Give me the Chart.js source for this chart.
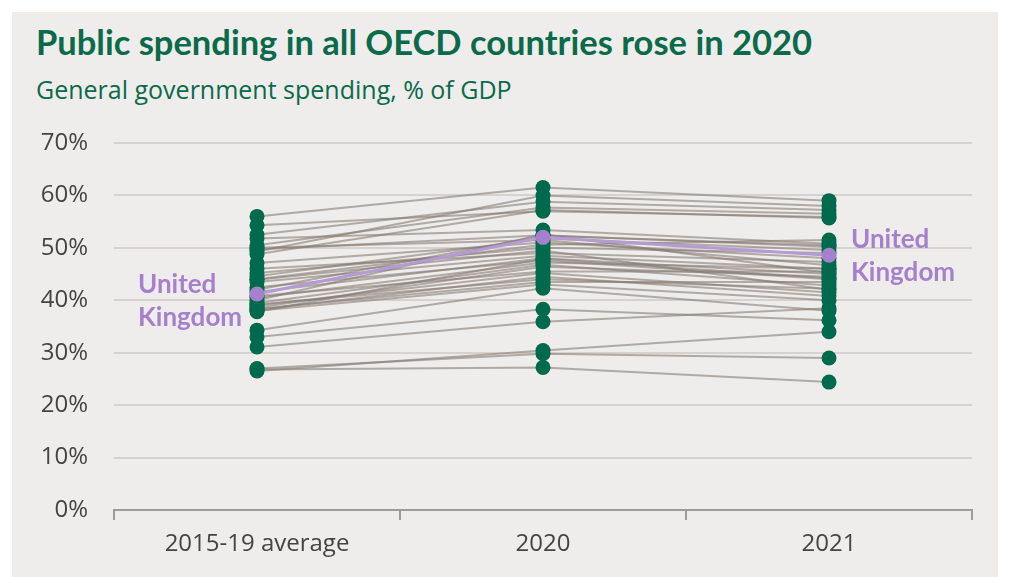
<!DOCTYPE html>
<html>
<head>
<meta charset="utf-8">
<script src="https://cdn.jsdelivr.net/npm/chart.js@4"></script>
<style>
  html, body { margin: 0; padding: 0; background: #ffffff; }
  #panel { position: absolute; left: 12px; top: 12px; width: 986px; height: 565px; background: #eeedeb; }
  #title { position: absolute; left: 36px; top: 21px; font: bold 34.5px Lato, sans-serif; color: #0b6a4a; white-space: nowrap; }
  #subtitle { position: absolute; left: 36px; top: 72px; font: 25px "Open Sans", sans-serif; color: #0b6a4a; white-space: nowrap; }
  #wrap { position: absolute; left: 0; top: 0; width: 1011px; height: 577px; }
</style>
</head>
<body>
<div id="panel"></div>
<div id="title">Public spending in all OECD countries rose in 2020</div>
<div id="subtitle">General government spending, % of GDP</div>
<div id="wrap"><canvas id="myChart" width="1011" height="577"></canvas></div>
<script>
// categories on the x axis
const periods = ['2015-19 average', '2020', '2021'];
const yTicks = [0, 10, 20, 30, 40, 50, 60, 70];

// one entry per country, in the same order across the three arrays
const countries = ['France', 'Greece', 'Belgium', 'Austria', 'Italy', 'Finland', 'Denmark', 'Norway',
  'Sweden', 'Hungary', 'Slovenia', 'Germany', 'Iceland', 'Portugal', 'Spain', 'Netherlands',
  'Luxembourg', 'Poland', 'Czech Republic', 'Slovak Republic', 'Israel', 'Japan', 'Estonia', 'Latvia',
  'Canada', 'United States', 'Australia', 'New Zealand', 'Lithuania', 'Switzerland', 'Korea',
  'Ireland', 'Chile', 'Mexico', 'Colombia', 'Turkey'];
const avg1519 = [56.0, 49.3, 52.5, 50.5, 48.8, 54.3, 51.8, 50.0,
  49.7, 47.1, 44.6, 44.0, 45.2, 46.0, 42.0, 43.5,
  42.5, 41.6, 40.5, 40.8, 39.5, 38.6, 39.0, 38.4,
  40.0, 37.8, 38.2, 39.2, 34.3, 33.0, 31.1,
  26.8, 26.5, 27.0, 38.0, 43.9];
const y2020 = [61.5, 60.0, 58.8, 57.7, 57.2, 57.0, 53.4, 51.5,
  52.4, 51.0, 51.8, 50.6, 50.0, 49.0, 52.3, 48.5,
  47.6, 48.0, 47.2, 45.5, 46.8, 46.4, 45.2, 43.5,
  52.6, 47.9, 44.5, 44.0, 42.3, 38.3, 35.9,
  27.2, 30.4, 29.8, 43.0, 49.5];
const y2021 = [59.0, 58.0, 57.2, 56.5, 55.7, 55.9, 50.8, 46.7,
  50.2, 48.0, 49.6, 51.5, 49.0, 47.3, 50.5, 46.0,
  44.0, 45.0, 46.0, 45.5, 42.8, 44.5, 41.5, 43.5,
  45.2, 44.2, 40.8, 42.2, 38.0, 36.2, 38.5,
  24.4, 34.0, 29.0, 40.0, 42.0];

const ukName = 'United Kingdom';
const ukValues = [41.2, 52.0, 48.6];

const green = '#006a4c';
const purple = '#a680cc';
const greyLine = 'rgba(135,123,117,0.6)';

const datasets = [];
countries.forEach((c, i) => {
  const vals = [avg1519[i], y2020[i], y2021[i]];
  datasets.push({
    label: c, data: vals, borderColor: greyLine, borderWidth: 2,
    pointRadius: 0, pointHoverRadius: 0, order: 5
  });
  datasets.push({
    label: c + ' dots', data: vals, showLine: false,
    pointRadius: 7.5, pointBackgroundColor: green, pointBorderWidth: 0, order: 3
  });
});
datasets.push({
  label: ukName, data: ukValues, borderColor: '#b59bd6', borderWidth: 3,
  pointRadius: 7.5, pointBackgroundColor: purple, pointBorderWidth: 0, order: 1
});

// the two "United Kingdom" labels beside the purple points
const ukLabels = {
  id: 'ukLabels',
  afterDatasetsDraw(chart) {
    const { ctx, scales } = chart;
    ctx.save();
    ctx.fillStyle = purple;
    ctx.font = 'bold 26px Lato, sans-serif';
    ctx.textBaseline = 'middle';
    ctx.textAlign = 'left';
    const y0 = scales.y.getPixelForValue(ukValues[0]);
    ctx.fillText('United', 138, y0 - 9);
    ctx.fillText('Kingdom', 138, y0 + 24);
    const y2 = scales.y.getPixelForValue(ukValues[2]);
    const x2 = scales.x.getPixelForValue(2);
    ctx.fillText('United', x2 + 22, y2 - 16);
    ctx.fillText('Kingdom', x2 + 22, y2 + 17);
    ctx.restore();
  }
};

const ctx = document.getElementById('myChart').getContext('2d');
new Chart(ctx, {
  type: 'line',
  data: { labels: periods, datasets: datasets },
  plugins: [ukLabels],
  options: {
    responsive: false,
    animation: false,
    clip: false,
    layout: { padding: { top: 143, right: 39, left: 0, bottom: 0 } },
    plugins: { legend: { display: false }, tooltip: { enabled: false } },
    scales: {
      x: {
        offset: true,
        afterFit: (s) => { s.height = 67; },
        grid: { offset: true, drawOnChartArea: false, drawTicks: true, tickLength: 10, color: '#9c9c9c', lineWidth: 2 },
        border: { display: true, color: '#9c9c9c', width: 2 },
        ticks: { color: '#444444', font: { family: 'Open Sans', size: 24 }, padding: 10 }
      },
      y: {
        min: 0, max: 70,
        afterFit: (s) => { s.width = 114; },
        afterBuildTicks: (s) => { s.ticks = yTicks.map(v => ({ value: v })); },
        grid: { drawTicks: false, color: '#d5d2cf', lineWidth: 2 },
        border: { display: false },
        ticks: {
          color: '#444444', font: { family: 'Open Sans', size: 24 }, padding: 26,
          callback: (v) => v + '%'
        }
      }
    }
  }
});
</script>
</body>
</html>
